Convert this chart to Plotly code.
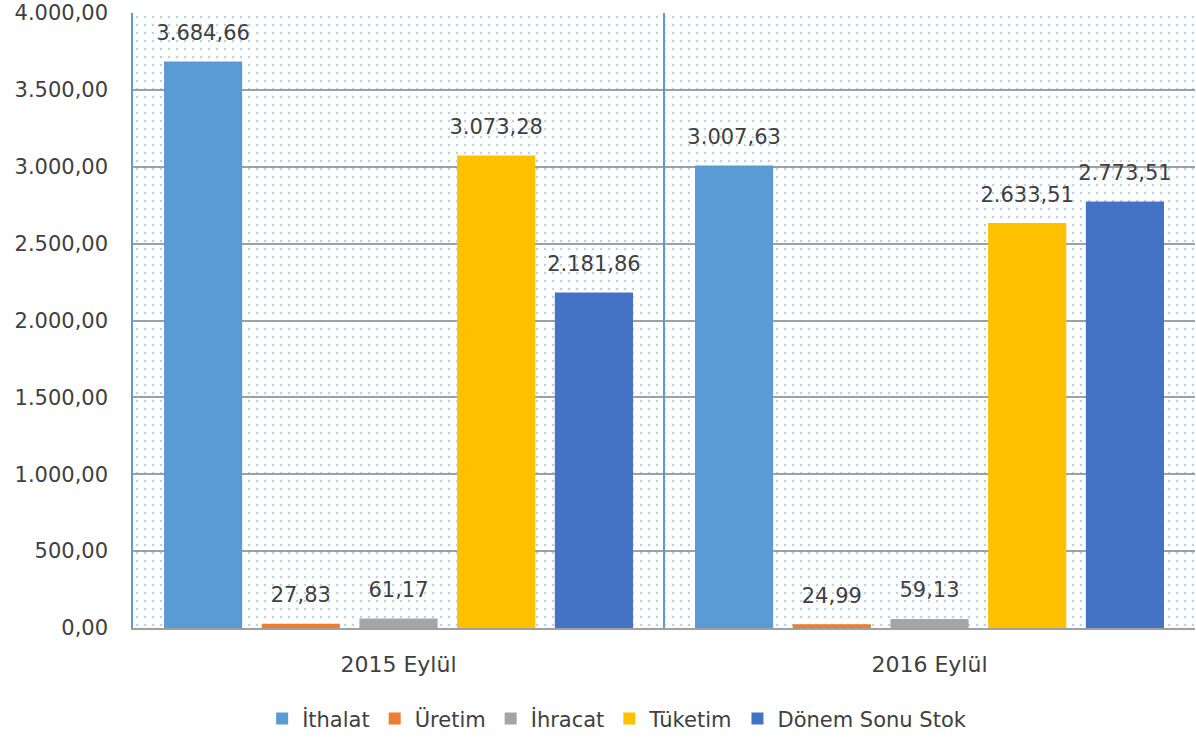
import plotly.graph_objects as go

categories = ["2015 Eylül", "2016 Eylül"]
series_names = ["İthalat", "Üretim", "İhracat", "Tüketim", "Dönem Sonu Stok"]
ithalat = [3684.66, 3007.63]
uretim = [27.83, 24.99]
ihracat = [61.17, 59.13]
tuketim = [3073.28, 2633.51]
donem_sonu_stok = [2181.86, 2773.51]
series_values = [ithalat, uretim, ihracat, tuketim, donem_sonu_stok]
colors = ["#5B9BD5", "#ED7D31", "#A5A5A5", "#FFC000", "#4472C4"]

Y_MAX = 4000
FONT = "DejaVu Sans"

fig = go.Figure()

# dotted plot-area background (drawn on the main, underlying subplot)
fig.add_trace(go.Bar(
    x=[0], y=[Y_MAX], width=[1], xaxis="x", yaxis="y",
    marker=dict(color="rgba(0,0,0,0)", line=dict(width=0),
                pattern=dict(shape=".", fgcolor="#6FA3DA", bgcolor="rgba(0,0,0,0)",
                             size=8, solidity=0.08)),
    showlegend=False, hoverinfo="skip",
))

for name, vals, col in zip(series_names, series_values, colors):
    fig.add_trace(go.Bar(
        name=name, x=categories, y=vals, xaxis="x2", yaxis="y2",
        marker=dict(color=col, line=dict(width=0)),
        texttemplate="<span style='font-size:21px'>%{y:,.2f}</span><br> ",
        textposition="outside", cliponaxis=False, constraintext="none",
        textfont=dict(family=FONT, size=12, color="#404040"),
    ))

fig.update_layout(
    width=1196, height=739,
    separators=",.",
    margin=dict(l=133, r=1, t=13, b=111),
    paper_bgcolor="white", plot_bgcolor="white",
    barmode="group", bargap=0.08, bargroupgap=0.2,
    font=dict(family=FONT, size=20, color="#595959"),
    xaxis=dict(visible=False, range=[-0.5, 0.5]),
    yaxis=dict(range=[0, Y_MAX], dtick=500, tickformat=",.2f",
               showgrid=True, gridcolor="#A0A0A0", gridwidth=1.5,
               zeroline=False, showline=True, linecolor="#5B9BD5", linewidth=1.5,
               ticks="", ticklabelstandoff=19,
               tickfont=dict(family=FONT, size=21, color="#404040")),
    xaxis2=dict(overlaying="x", side="bottom", type="category",
                range=[-0.5, 1.5], tickson="boundaries",
                showgrid=True, gridcolor="#5B9BD5", gridwidth=1.5,
                showline=True, linecolor="#A0A0A0", linewidth=2,
                ticks="", ticklabelstandoff=16,
                tickfont=dict(family=FONT, size=22, color="#404040")),
    yaxis2=dict(overlaying="y", range=[0, Y_MAX], visible=False),
    legend=dict(orientation="h", xref="container", yref="container",
                x=0.516, xanchor="center", y=0.0271, yanchor="middle",
                font=dict(family=FONT, size=21, color="#404040"),
                itemwidth=30),
    showlegend=True,
)

fig.write_html("out.html", config={"displayModeBar": False},
               post_script="document.body.style.margin='0';")
